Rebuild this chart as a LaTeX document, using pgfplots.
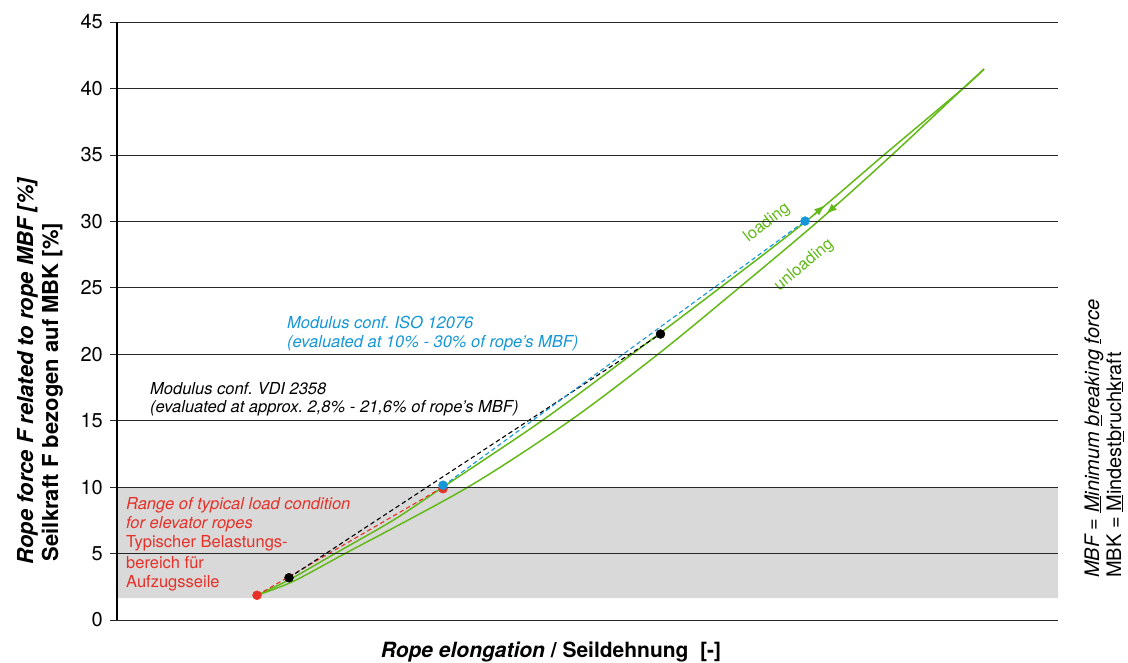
\documentclass[border=0pt]{standalone}
\usepackage{pgfplots}
\pgfplotsset{compat=1.18}
\usepackage{fontspec}
\setmainfont{TeX Gyre Heros}
\usetikzlibrary{arrows.meta}
\definecolor{cgreen}{RGB}{98,185,24}
\definecolor{cblue}{RGB}{20,150,215}
\definecolor{cred}{RGB}{230,48,40}
\definecolor{cband}{RGB}{217,217,217}
\frenchspacing
\begin{document}
\begin{tikzpicture}[x=1bp,y=1bp]
\path[use as bounding box] (0,0) rectangle (1128,663);
\begin{axis}[
  at={(117bp,43bp)}, anchor=south west,
  scale only axis, width=941bp, height=598bp,
  xmin=0, xmax=941, ymin=0, ymax=45,
  xtick=\empty,
  ytick={0,5,...,45},
  axis lines*=left,
  axis on top,
  ymajorgrids,
  grid style={black!85, line width=0.75bp},
  y axis line style={black, line width=1.1bp},
  x axis line style={black!85, line width=0.75bp},
  tick style={black!85, line width=0.75bp},
  major tick length=7bp,
  tick align=outside,
  yticklabel style={font=\fontsize{20bp}{24bp}\selectfont, inner sep=0pt, xshift=-7bp},
  /pgf/number format/assume math mode=true,
  clip=false,
]
% band of typical load
\addplot[fill=cband, draw=none, forget plot] coordinates {(0,1.65) (941,1.65) (941,10) (0,10) (0,1.65)};
% loading / unloading curves
\addplot[cgreen, line width=1.5bp, smooth] coordinates {(140,1.86) (174,3.1) (218,5) (276,7.5) (326,10) (425,15) (515,20) (603,25) (689,30) (767,35) (846,40) (867,41.46)};
\addplot[cgreen, line width=1.5bp, smooth] coordinates {(140,1.86) (176,2.9) (228,5) (351,10) (453,15) (541,20) (622,25) (701,30) (775,35) (846,40) (867,41.46)};
\addplot[cgreen, line width=1.5bp, -{Latex[length=11bp,width=8bp]}] coordinates {(697,30.51) (708,31.22)};
\addplot[cgreen, line width=1.5bp, -{Latex[length=11bp,width=8bp]}] coordinates {(720,31.29) (709,30.54)};
% secant lines
\addplot[cred, line width=1.1bp, dash pattern=on 4.5bp off 3bp] coordinates {(140,1.86) (326,10)};
\addplot[black, line width=1.1bp, dash pattern=on 4.5bp off 3bp] coordinates {(172,3.18) (543.5,21.52)};
\addplot[cblue, line width=1.1bp, dash pattern=on 4.5bp off 3bp] coordinates {(326,10.08) (688,30.02)};
% points
\addplot[only marks, mark=*, mark size=4.5bp, cred] coordinates {(140,1.86) (326,9.88)};
\addplot[only marks, mark=*, mark size=4.5bp, cblue] coordinates {(326,10.14) (688,30.02)};
\addplot[only marks, mark=*, mark size=4.5bp, black] coordinates {(172,3.18) (543.5,21.52)};
% annotations
\node[cgreen, rotate=38, inner sep=0, font=\fontsize{16.5bp}{19.8bp}\selectfont] at (axis cs:650,29.87) {loading};
\node[cgreen, rotate=40, inner sep=0, font=\fontsize{16.5bp}{19.8bp}\selectfont] at (axis cs:687,26.7) {unloading};
\begin{scope}[every node/.style={anchor=base west, inner sep=0, font=\fontsize{16.5bp}{19.8bp}\selectfont\itshape}]
\node[cblue] at (axis cs:170,21.97) {Modulus conf. ISO 12076};
\node[cblue] at (axis cs:170,20.47) {(evaluated at 10\% - 30\% of rope’s MBF)};
\node[black] at (axis cs:33,17.0) {Modulus conf. VDI 2358};
\node[black] at (axis cs:33,15.58) {(evaluated at approx. 2,8\% - 21,6\% of rope’s MBF)};
\node[cred] at (axis cs:9,8.35) {Range of typical load condition};
\node[cred] at (axis cs:9,6.88) {for elevator ropes};
\node[cred, font=\fontsize{16.5bp}{19.8bp}\selectfont\upshape] at (axis cs:9,5.42) {Typischer Belastungs-};
\node[cred, font=\fontsize{16.5bp}{19.8bp}\selectfont\upshape] at (axis cs:9,3.91) {bereich für};
\node[cred, font=\fontsize{16.5bp}{19.8bp}\selectfont\upshape] at (axis cs:9,2.41) {Aufzugsseile};
\end{scope}
\end{axis}
% axis labels
\node[rotate=90, anchor=base, inner sep=0, font=\fontsize{22bp}{26bp}\selectfont\bfseries\itshape] at (33,292) {Rope force F related to rope MBF [\%]};
\node[rotate=90, anchor=base, inner sep=0, font=\fontsize{22bp}{26bp}\selectfont\bfseries] at (58,271) {Seilkraft F bezogen auf MBK [\%]};
\node[anchor=base, inner sep=0, font=\fontsize{21bp}{26bp}\selectfont\bfseries] at (551,5) {\textit{Rope elongation} / Seildehnung\ \ [-]};
% note on the right
\node[rotate=90, anchor=base west, inner sep=0, font=\fontsize{20bp}{24bp}\selectfont\itshape] at (1099,85) {MBF = \underline{M}inimum \underline{b}reaking \underline{f}orce};
\node[rotate=90, anchor=base west, inner sep=0, font=\fontsize{20bp}{24bp}\selectfont] at (1121,85) {MBK = \underline{M}indest\underline{b}ruch\underline{k}raft};
\end{tikzpicture}
\end{document}
